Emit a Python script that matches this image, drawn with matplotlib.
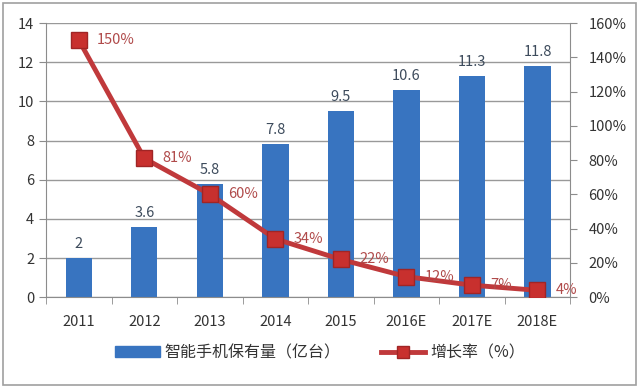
import matplotlib.pyplot as plt
import numpy as np
from matplotlib.lines import Line2D
from matplotlib.patches import Rectangle

plt.rcParams['font.family'] = ['Noto Sans CJK SC', 'DejaVu Sans']

years = ['2011', '2012', '2013', '2014', '2015', '2016E', '2017E', '2018E']
phones = [2, 3.6, 5.8, 7.8, 9.5, 10.6, 11.3, 11.8]
growth = [150, 81, 60, 34, 22, 12, 7, 4]

bar_color = '#3874c0'
line_color = '#c0393b'
text_color = '#333333'

fig = plt.figure(figsize=(6.4, 3.9), dpi=100)
ax1 = fig.add_axes([0.072, 0.238, 0.819, 0.703])
x = np.arange(len(years))

# bars
ax1.bar(x, phones, width=0.4, color=bar_color, zorder=2)
for xi, v in zip(x, phones):
    ax1.annotate(f'{v:g}', (xi, v), xytext=(0, 5), textcoords='offset points',
                 ha='center', va='bottom', fontsize=10.5, color='#3d4b5c')

ax1.set_xlim(-0.5, len(years) - 0.5)
ax1.set_ylim(0, 14)
ax1.set_yticks(range(0, 15, 2))
ax1.yaxis.grid(True, color='#999999', linewidth=1)
ax1.set_axisbelow(True)
ax1.set_xticks(x)
ax1.set_xticklabels(years)
ax1.set_xticks(np.arange(-0.5, len(years)), minor=True)
ax1.tick_params(axis='x', which='major', length=0, pad=13, labelsize=10.5, labelcolor=text_color)
ax1.tick_params(axis='x', which='minor', length=5, color='#8c8c8c')
ax1.tick_params(axis='y', length=5, color='#8c8c8c', labelsize=10.5, labelcolor=text_color)
for s in ['top', 'right']:
    ax1.spines[s].set_visible(False)
ax1.spines['left'].set_color('#8c8c8c')
ax1.spines['bottom'].set_color('#8c8c8c')

# growth line
ax2 = ax1.twinx()
ax2.plot(x, growth, color=line_color, linewidth=3.5, marker='s', markersize=11,
         markerfacecolor='#c8302e', markeredgecolor='#a02525', zorder=3)
for xi, v in zip(x, growth):
    ax2.annotate(f'{v}%', (xi, v), xytext=(13, 0), textcoords='offset points',
                 ha='left', va='center', fontsize=10.5, color='#b04a4a')
ax2.set_ylim(0, 160)
ax2.set_yticks(range(0, 161, 20))
ax2.set_yticklabels([f'{t}%' for t in range(0, 161, 20)])
ax2.tick_params(axis='y', length=5, color='#8c8c8c', labelsize=10.5, labelcolor=text_color, pad=8)
for s in ['top', 'left', 'bottom']:
    ax2.spines[s].set_visible(False)
ax2.spines['right'].set_color('#8c8c8c')

# legend
handles = [Rectangle((0, 0), 1, 1, color=bar_color),
           Line2D([0], [0], color=line_color, linewidth=3.5, marker='s', markersize=9,
                  markerfacecolor='#c8302e', markeredgecolor='#a02525')]
fig.legend(handles, ['智能手机保有量（亿台）', '增长率（%）'], loc='center',
           bbox_to_anchor=(0.5, 0.095), ncol=2, frameon=False, fontsize=11.5,
           columnspacing=2.5, handlelength=2.8, handletextpad=0.3,
           labelcolor=text_color)

# outer border
fig.patches.append(Rectangle((0.004, 0.012), 0.99, 0.98, transform=fig.transFigure,
                             fill=False, edgecolor='#a0a0a0', linewidth=1.2))

fig.savefig('out.png', dpi=100)
